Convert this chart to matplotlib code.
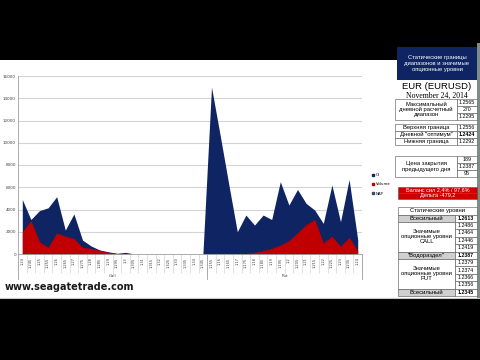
import matplotlib
matplotlib.use("Agg")
import matplotlib.pyplot as plt
import matplotlib.transforms as mtransforms
from matplotlib.patches import Rectangle
from matplotlib.lines import Line2D

# strikes (x categories)
call_strikes = ["1.24", "1.245", "1.25", "1.255", "1.26", "1.265", "1.27", "1.275",
                "1.28", "1.285", "1.29", "1.295", "1.3", "1.305", "1.31", "1.315",
                "1.32", "1.325", "1.33", "1.335", "1.34", "1.345"]
put_strikes = ["1.155", "1.16", "1.165", "1.17", "1.175", "1.18", "1.185", "1.19",
               "1.195", "1.2", "1.205", "1.21", "1.215", "1.22", "1.225", "1.23",
               "1.235", "1.24"]

call_oi = [4900, 3100, 3900, 4150, 5150, 2150, 3600, 1250, 720, 360, 200, 60,
           150, 0, 0, 0, 0, 0, 0, 0, 0, 0]
call_vol = [2000, 3000, 1100, 600, 1900, 1600, 1400, 600, 500, 330, 150, 50,
            0, 0, 0, 0, 0, 0, 0, 0, 0, 0]
put_oi = [15000, 10700, 6300, 2000, 3500, 2600, 3500, 3100, 6500, 4400, 5800,
          4550, 3950, 2750, 6200, 2900, 6700, 1300]
put_vol = [0, 0, 0, 0, 50, 150, 300, 500, 800, 1200, 1900, 2650, 3100, 1000,
           1600, 700, 1500, 300]

legend_labels = ["OI", "Volume", "NAP"]
group_labels = ["Call", "Put"]

# right-hand table
header_text = "Статические границы\nдиапазонов и значимые\nопционные уровни"
pair_name = "EUR (EURUSD)"
date_text = "November 24, 2014"
range_label = "Максимальный\nдневной расчетный\nдиапазон"
range_values = ["1.2565", "270", "1.2295"]
bounds_labels = ["Верхняя граница", "Дневной \"оптимум\"", "Нижняя граница"]
bounds_values = ["1.2556", "1.2424", "1.2292"]
close_label = "Цена закрытия\nпредыдущего дня"
close_values = ["189", "1.2387", "95"]
balance_text = "Баланс сил 2,4% / 97,6%"
delta_text = "Дельта -479,2"
static_title = "Статические уровни"
top_label, top_value = "Всесильный", "1.2613"
call_label = "Значимые\nопционные уровни\nCALL"
call_levels = ["1.2486", "1.2464", "1.2446", "1.2419"]
water_label, water_value = "\"Водораздел\"", "1.2387"
put_label = "Значимые\nопционные уровни\nPUT"
put_levels = ["1.2379", "1.2374", "1.2366", "1.2356"]
bottom_label, bottom_value = "Всесильный", "1.2345"

NAVY = "#0f2462"
RED = "#c00000"

fig = plt.figure(figsize=(4.8, 3.6), dpi=100, facecolor="black")

# background layer in pixel coords
bg = fig.add_axes([0, 0, 1, 1])
bg.set_xlim(0, 480)
bg.set_ylim(360, 0)
bg.axis("off")
bg.set_facecolor("black")
bg.add_patch(Rectangle((0, 60), 480, 238, facecolor="white", edgecolor="none"))
bg.add_patch(Rectangle((477, 43), 3, 255, facecolor="#7d8c84", edgecolor="none"))
bg.plot([0, 480], [298, 298], color="#c8c8c8", lw=0.8)

bg.text(5, 287, "www.seagatetrade.com", fontsize=7, fontweight="bold",
        color="#1a1a1a", ha="left", va="center", family="DejaVu Sans")

SANS = ["Liberation Sans", "DejaVu Sans"]


def cell(x0, y0, x1, y1, text="", fc="white", color="black", size=4.2, bold=False):
    bg.add_patch(Rectangle((x0, y0), x1 - x0, y1 - y0, facecolor=fc,
                           edgecolor="#505050", lw=0.4))
    if text:
        bg.text((x0 + x1) / 2, (y0 + y1) / 2, text, fontsize=size, color=color,
                ha="center", va="center", family=SANS, linespacing=1.05,
                fontweight="bold" if bold else "normal")


# header
bg.add_patch(Rectangle((397, 47), 80, 33, facecolor=NAVY, edgecolor="none"))
bg.text(437, 63.5, header_text, fontsize=4.2, color="white", ha="center",
        va="center", family=SANS, linespacing=1.35)
bg.text(437, 86.5, pair_name, fontsize=6.8, color="black", ha="center",
        va="center", family=SANS)
bg.text(437, 95.5, date_text, fontsize=5.6, color="black", ha="center",
        va="center", family=["Liberation Serif", "DejaVu Serif"])

L, M, R = 395, 457, 477
rh = 7
# table 1
cell(L, 99, M, 99 + 3 * rh, range_label)
for i, v in enumerate(range_values):
    cell(M, 99 + i * rh, R, 99 + (i + 1) * rh, v, size=3.8)
# table 2
for i, (t, v) in enumerate(zip(bounds_labels, bounds_values)):
    cell(L, 124 + i * rh, M, 124 + (i + 1) * rh, t)
    cell(M, 124 + i * rh, R, 124 + (i + 1) * rh, v, size=3.8, bold=(i == 1))
# table 3
cell(L, 156, M, 156 + 3 * rh, close_label)
for i, v in enumerate(close_values):
    cell(M, 156 + i * rh, R, 156 + (i + 1) * rh, v, size=3.8)

# red bars
cell(398, 186.5, 477, 192.5, balance_text, fc="#d00000", color="white", size=4)
cell(398, 192.5, 477, 198.5, delta_text, fc="#d00000", color="white", size=4)

# table 4
L2, M2 = 398, 455
cell(L2, 207, R, 214.5, static_title)
r = 7.4
y = 214.5
cell(L2, y, M2, y + r, top_label, fc="#cfcfcf")
cell(M2, y, R, y + r, top_value, size=3.8, bold=True)
y += r
cell(L2, y, M2, y + 4 * r, call_label)
for i, v in enumerate(call_levels):
    cell(M2, y + i * r, R, y + (i + 1) * r, v, size=3.8)
y += 4 * r
cell(L2, y, M2, y + r, water_label, fc="#cfcfcf")
cell(M2, y, R, y + r, water_value, size=3.8, bold=True)
y += r
cell(L2, y, M2, y + 4 * r, put_label)
for i, v in enumerate(put_levels):
    cell(M2, y + i * r, R, y + (i + 1) * r, v, size=3.8)
y += 4 * r
cell(L2, y, M2, y + r, bottom_label, fc="#cfcfcf")
cell(M2, y, R, y + r, bottom_value, size=3.8, bold=True)

# chart
ax = fig.add_axes([18 / 480, 1 - 254 / 360, 344 / 480, 178 / 360])
ax.set_facecolor("white")

labels = call_strikes + put_strikes
oi = call_oi + put_oi
vol = call_vol + put_vol
x = list(range(len(labels)))

ax.fill_between(x, oi, color=NAVY, lw=0, label=legend_labels[0])
ax.fill_between(x, vol, color=RED, lw=0, label=legend_labels[1])

ax.set_xlim(-0.5, len(labels) - 0.5)
ax.set_ylim(0, 16000)
ax.set_yticks(range(0, 16001, 2000))
ax.yaxis.grid(True, color="#d4d4d4", lw=0.8)
ax.set_axisbelow(True)
ax.tick_params(axis="y", labelsize=3, colors="#404040", length=0, pad=1.5)

ax.set_xticks(x)
ax.set_xticklabels(labels, rotation=90, fontsize=2.6, color="#404040")
ax.set_xticks([i - 0.5 for i in range(len(labels) + 1)], minor=True)
ax.tick_params(axis="x", which="major", length=0, pad=2.5)
ax.tick_params(axis="x", which="minor", length=13.5, width=0.4, color="#c8c8c8")

for s in ("top", "right"):
    ax.spines[s].set_visible(False)
ax.spines["left"].set_color("#a0a0a0")
ax.spines["left"].set_linewidth(0.6)
ax.spines["bottom"].set_color("#a0a0a0")
ax.spines["bottom"].set_linewidth(0.6)

trans = mtransforms.blended_transform_factory(ax.transData, ax.transAxes)
n_call = len(call_strikes)
for bx in (-0.5, n_call - 0.5, len(labels) - 0.5):
    ax.plot([bx, bx], [0, -0.14], transform=trans, clip_on=False,
            color="#a0a0a0", lw=0.6)
ax.text((n_call - 1) / 2, -0.125, group_labels[0], transform=trans,
        fontsize=3, color="#404040", ha="center", va="center")
ax.text(n_call + (len(put_strikes) - 1) / 2, -0.125, group_labels[1],
        transform=trans, fontsize=3, color="#404040", ha="center", va="center")

handles = [Line2D([], [], marker="s", ls="none", color=c, markersize=2)
           for c in (NAVY, RED, "#3a4a6e")]
fig.legend(handles, legend_labels, loc="upper left",
           bbox_to_anchor=(369 / 480, 1 - 171 / 360), frameon=False,
           fontsize=2.8, handlelength=0.8, handletextpad=0.4, labelspacing=1.4,
           borderpad=0)

fig.savefig("out.png", dpi=100, facecolor="black")
